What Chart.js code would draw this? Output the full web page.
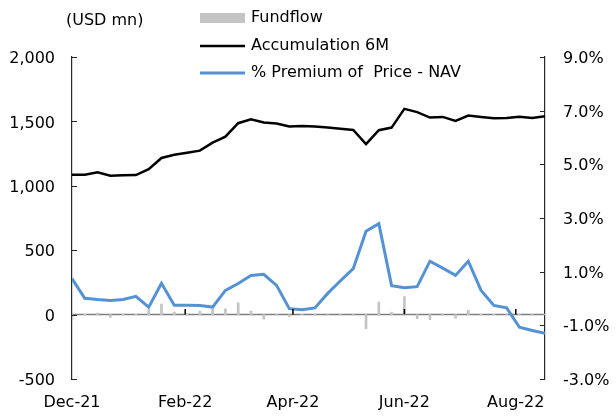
<!DOCTYPE html>
<html>
<head>
<meta charset="utf-8">
<script src="https://cdn.jsdelivr.net/npm/chart.js@4.4.0/dist/chart.umd.min.js"></script>
<style>
  html, body { margin: 0; padding: 0; background: #fff; }
  #wrap { width: 616px; height: 417px; }
</style>
</head>
<body>
<div id="wrap"><canvas id="c" width="616" height="417"></canvas></div>
<script>
// ---- data ----
const dates = [
  "2021-12-03","2021-12-10","2021-12-17","2021-12-24","2021-12-31",
  "2022-01-07","2022-01-14","2022-01-21","2022-01-28",
  "2022-02-04","2022-02-11","2022-02-18","2022-02-25",
  "2022-03-04","2022-03-11","2022-03-18","2022-03-25",
  "2022-04-01","2022-04-08","2022-04-15","2022-04-22","2022-04-29",
  "2022-05-06","2022-05-13","2022-05-20","2022-05-27",
  "2022-06-03","2022-06-10","2022-06-17","2022-06-24",
  "2022-07-01","2022-07-08","2022-07-15","2022-07-22","2022-07-29",
  "2022-08-05","2022-08-12","2022-08-19"
];
const fundflow = [-40, 3, 12, -22, 5, 2, 38, 82, 19, 3, 26, 45, 45, 92, 27, -35, -3, -15, 3, -3,
  -3, -3, -3, -110, 97, 19, 140, -32, -40, -3, -28, 33, 2, 3, -3, 3, -3, 2];
const accumulation = [1086, 1086, 1105, 1079, 1082, 1083, 1129, 1216, 1241, 1257, 1273, 1335, 1382,
  1486, 1517, 1491, 1483, 1460, 1465, 1461, 1452, 1443, 1434, 1323, 1432, 1452, 1597, 1572, 1530,
  1535, 1504, 1545, 1535, 1525, 1527, 1537, 1527, 1540];
const premium = [0.74, 0.01, -0.04, -0.07, -0.04, 0.08, -0.32, 0.57, -0.25, -0.25, -0.26, -0.32,
  0.30, 0.56, 0.86, 0.90, 0.49, -0.38, -0.42, -0.35, 0.19, 0.66, 1.11, 2.51, 2.79, 0.48, 0.40, 0.44,
  1.39, 1.13, 0.86, 1.39, 0.30, -0.26, -0.35, -1.07, -1.19, -1.30];
const tickDates = ["2021-12-03","2022-02-03","2022-04-03","2022-06-03","2022-08-03"];
const tickLabels = ["Dec-21","Feb-22","Apr-22","Jun-22","Aug-22"];
const seriesNames = ["Fundflow", "Accumulation 6M", "% Premium of  Price - NAV"];
const unitLabel = "(USD mn)";

// ---- helpers ----
const day0 = new Date(dates[0]).getTime();
const toDay = s => Math.round((new Date(s).getTime() - day0) / 864e5);
const xs = dates.map(toDay);
const tickDays = tickDates.map(toDay);
const pts = arr => arr.map((v, i) => ({ x: xs[i], y: v }));

const FONT = "'DejaVu Sans', sans-serif";
const GRAY_BAR = '#c4c4c4';
const BLUE = '#5592d4';
const AXIS = '#262626';

const decor = {
  id: 'decor',
  beforeDatasetsDraw(chart) {
    const { ctx, chartArea, scales } = chart;
    const y0 = scales.y.getPixelForValue(0);
    ctx.save();
    ctx.strokeStyle = '#7f7f7f';
    ctx.lineWidth = 1.5;
    ctx.beginPath();
    ctx.moveTo(chartArea.left, y0);
    ctx.lineTo(chartArea.right, y0);
    ctx.stroke();
    ctx.restore();
  },
  afterDatasetsDraw(chart) {
    const { ctx, chartArea, scales } = chart;
    const y0 = scales.y.getPixelForValue(0);
    ctx.save();
    ctx.strokeStyle = '#000';
    ctx.lineWidth = 1.5;
    ctx.beginPath();
    scales.x.ticks.forEach(t => {
      const px = scales.x.getPixelForValue(t.value);
      if (px > chartArea.left + 2 && px < chartArea.right - 2) {
        ctx.moveTo(px, y0);
        ctx.lineTo(px, y0 - 5.5);
      }
    });
    ctx.stroke();
    ctx.strokeStyle = AXIS;
    ctx.lineWidth = 1.2;
    ctx.beginPath();
    scales.y.ticks.forEach(t => {
      const py = Math.round(scales.y.getPixelForValue(t.value)) + 0.5;
      ctx.moveTo(chartArea.left, py);
      ctx.lineTo(chartArea.left + 5, py);
    });
    scales.y1.ticks.forEach(t => {
      const py = Math.round(scales.y1.getPixelForValue(t.value)) + 0.5;
      ctx.moveTo(chartArea.right, py);
      ctx.lineTo(chartArea.right - 5, py);
    });
    ctx.stroke();
    ctx.restore();
  },
  afterDraw(chart) {
    const { ctx } = chart;
    ctx.save();
    ctx.font = '16px ' + FONT;
    ctx.fillStyle = '#000';
    ctx.textBaseline = 'middle';
    ctx.textAlign = 'left';
    ctx.fillText(unitLabel, 66, 21);
    // legend
    const lx0 = 200, lx1 = 245, tx = 251;
    const rows = [18, 46, 73];
    ctx.fillStyle = GRAY_BAR;
    ctx.fillRect(lx0, rows[0] - 5, lx1 - lx0, 10);
    ctx.strokeStyle = '#000';
    ctx.lineWidth = 2.5;
    ctx.beginPath(); ctx.moveTo(lx0, rows[1]); ctx.lineTo(lx1, rows[1]); ctx.stroke();
    ctx.strokeStyle = BLUE;
    ctx.lineWidth = 3;
    ctx.beginPath(); ctx.moveTo(lx0, rows[2]); ctx.lineTo(lx1, rows[2]); ctx.stroke();
    ctx.fillStyle = '#000';
    seriesNames.forEach((n, i) => ctx.fillText(n, tx, rows[i]));
    ctx.restore();
  }
};

new Chart(document.getElementById('c'), {
  type: 'bar',
  data: {
    datasets: [
      { type: 'line', label: seriesNames[2], data: pts(premium), yAxisID: 'y1',
        borderColor: BLUE, borderWidth: 3, pointRadius: 0, tension: 0, order: 1, fill: false },
      { type: 'line', label: seriesNames[1], data: pts(accumulation), yAxisID: 'y',
        borderColor: '#000', borderWidth: 2.5, pointRadius: 0, tension: 0, order: 2, fill: false },
      { type: 'bar', label: seriesNames[0], data: pts(fundflow), yAxisID: 'y',
        backgroundColor: GRAY_BAR, barThickness: 2, order: 3 }
    ]
  },
  options: {
    responsive: false,
    animation: false,
    devicePixelRatio: 1,
    layout: { padding: { top: 57, left: 0, right: 0, bottom: 0 } },
    plugins: { legend: { display: false }, tooltip: { enabled: false }, title: { display: false } },
    scales: {
      x: {
        type: 'linear', position: 'bottom',
        min: 0, max: xs[xs.length - 1], offset: false,
        grid: { display: false, drawTicks: false }, border: { display: false },
        afterBuildTicks: s => { s.ticks = tickDays.map(v => ({ value: v })); },
        afterFit: s => { s.height = 38; },
        ticks: {
          autoSkip: false, maxRotation: 0, padding: 14,
          color: '#000', font: { family: FONT, size: 16 },
          callback: (v, i) => tickLabels[i]
        }
      },
      y: {
        position: 'left', min: -500, max: 2000,
        grid: { display: false, drawTicks: false },
        border: { display: true, color: AXIS, width: 1.2 },
        afterFit: s => { s.width = 72; },
        ticks: {
          stepSize: 500, padding: 17, labelOffset: 2, color: '#000', font: { family: FONT, size: 16 },
          callback: v => v.toLocaleString('en-US')
        }
      },
      y1: {
        position: 'right', min: -3, max: 9,
        grid: { display: false, drawTicks: false },
        border: { display: true, color: AXIS, width: 1.2 },
        afterFit: s => { s.width = 71; },
        ticks: {
          stepSize: 2, padding: 18, labelOffset: 2, color: '#000', font: { family: FONT, size: 16 },
          callback: v => v.toFixed(1) + '%'
        }
      }
    }
  },
  plugins: [decor]
});
</script>
</body>
</html>
